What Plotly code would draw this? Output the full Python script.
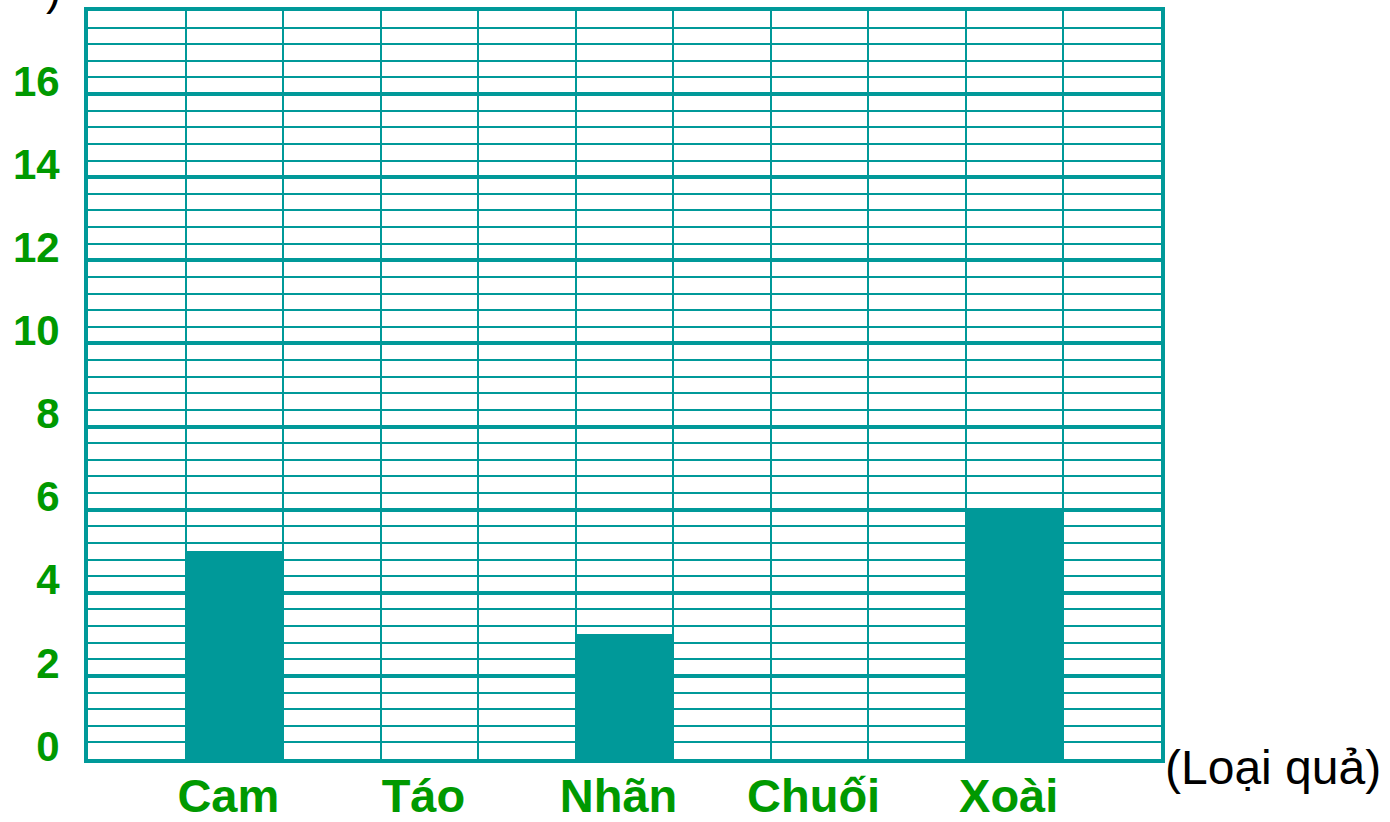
import plotly.graph_objects as go

categories = ["Cam", "Táo", "Nhãn", "Chuối", "Xoài"]
values = [5, 0, 3, 0, 6]
# each category sits in every second column of an 11-column grid
category_columns = [1, 3, 5, 7, 9]
n_columns = 11
y_ticks = [0, 2, 4, 6, 8, 10, 12, 14, 16]
y_max = 18
x_title = "(Loại quả)"
y_title_fragment = ")"

TEAL = "#009999"
GREEN = "#009900"
FONT = "Liberation Sans, Arial, sans-serif"

x_centers = [c + 0.5 for c in category_columns]

fig = go.Figure(
    go.Bar(
        x=x_centers,
        y=values,
        width=1,
        marker=dict(color=TEAL, line=dict(width=0)),
        hoverinfo="skip",
    )
)

fig.update_layout(
    width=1390,
    height=822,
    margin=dict(l=88, r=229, t=11, b=63, autoexpand=False),
    paper_bgcolor="white",
    plot_bgcolor="white",
    showlegend=False,
    bargap=0,
)

fig.update_xaxes(
    range=[0, n_columns],
    automargin=False,
    tickmode="array",
    tickvals=x_centers,
    ticktext=categories,
    ticks="",
    showgrid=False,
    zeroline=False,
    showline=True,
    linecolor=TEAL,
    linewidth=4,
    mirror=True,
    tickfont=dict(family=FONT, size=47, color=GREEN, weight="bold"),
    ticklabelstandoff=-7,
    ticklabelshift=-6,
    minor=dict(
        tickmode="linear",
        tick0=0,
        dtick=1,
        showgrid=True,
        gridcolor=TEAL,
        gridwidth=2,
        ticks="",
    ),
)

fig.update_yaxes(
    range=[0, y_max],
    automargin=False,
    tickmode="array",
    tickvals=y_ticks,
    ticks="",
    showgrid=True,
    gridcolor=TEAL,
    gridwidth=3.5,
    zeroline=False,
    showline=True,
    linecolor=TEAL,
    linewidth=4,
    mirror=True,
    tickfont=dict(family=FONT, size=42, color=GREEN, weight="bold"),
    ticklabelstandoff=16,
    ticklabelshift=-13,
    minor=dict(
        tickmode="linear",
        tick0=0,
        dtick=0.4,
        showgrid=True,
        gridcolor=TEAL,
        gridwidth=2,
        ticks="",
    ),
)

fig.add_annotation(
    text=x_title,
    xref="paper", yref="paper",
    x=1, y=0,
    xanchor="left", yanchor="middle",
    xshift=2, yshift=-8,
    showarrow=False,
    font=dict(family=FONT, size=48, color="black"),
)

fig.add_annotation(
    text=y_title_fragment,
    xref="paper", yref="paper",
    x=0, y=1,
    xanchor="right", yanchor="middle",
    xshift=-25, yshift=23,
    showarrow=False,
    font=dict(family=FONT, size=46, color="black"),
)

fig.write_html(
    "out.html",
    config={"displayModeBar": False},
    post_script="document.body.style.margin='0';document.body.style.overflow='hidden';",
)
